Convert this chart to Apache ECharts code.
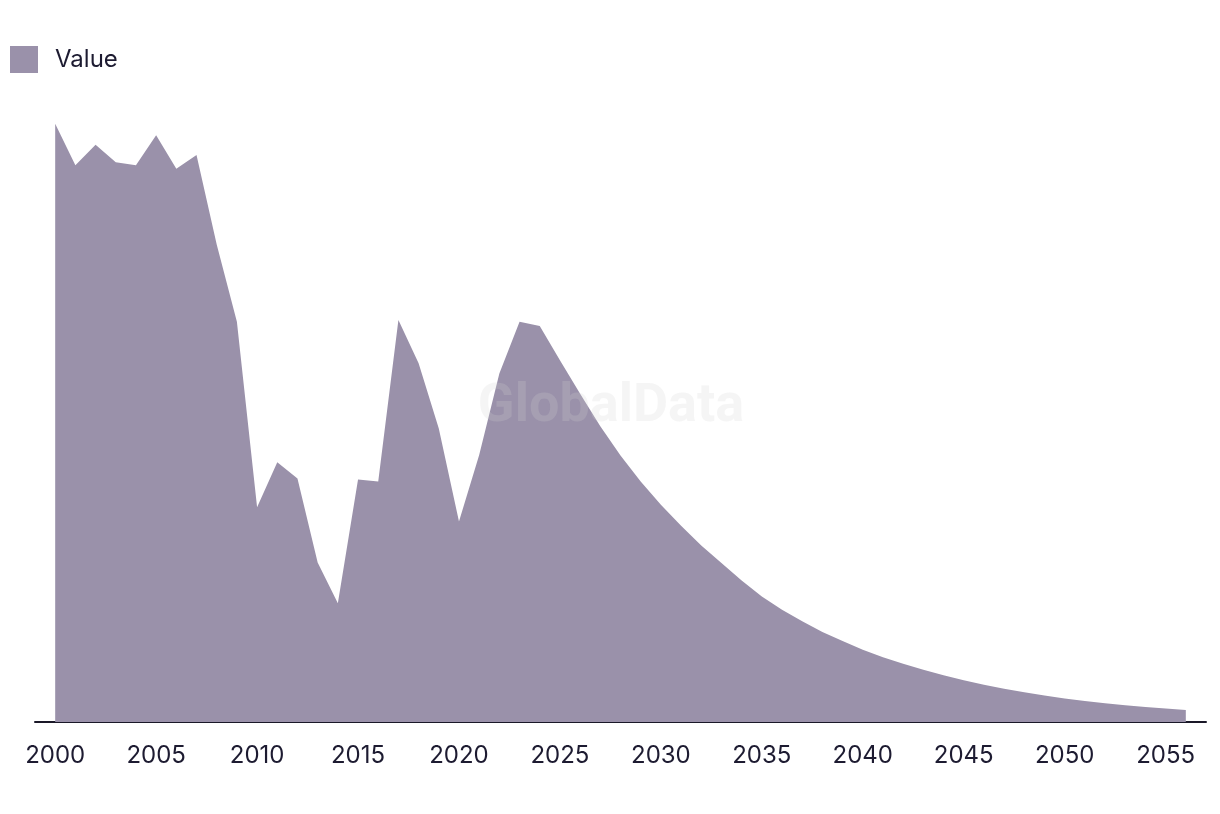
<!DOCTYPE html>
<html>
<head>
<meta charset="utf-8">
<script src="https://cdn.jsdelivr.net/npm/echarts@6/dist/echarts.min.js"></script>
<style>html,body{margin:0;padding:0;background:#fff}#c{width:1220px;height:814px}</style>
</head>
<body>
<div id="c"></div>
<script>
const years = [2000,2001,2002,2003,2004,2005,2006,2007,2008,2009,2010,2011,2012,2013,2014,2015,2016,2017,2018,2019,2020,2021,2022,2023,2024,2025,2026,2027,2028,2029,2030,2031,2032,2033,2034,2035,2036,2037,2038,2039,2040,2041,2042,2043,2044,2045,2046,2047,2048,2049,2050,2051,2052,2053,2054,2055,2056];
const values = [99.7,92.8,96.2,93.3,92.8,97.8,92.2,94.5,79.6,66.7,35.8,43.3,40.6,26.6,19.8,40.4,40.1,67.0,59.8,48.9,33.4,44.5,58.1,66.7,66.0,60.3,54.7,49.3,44.4,40.1,36.2,32.7,29.4,26.5,23.6,20.9,18.7,16.8,15.0,13.5,12.05,10.8,9.7,8.7,7.8,6.95,6.2,5.55,4.95,4.4,3.92,3.5,3.13,2.8,2.5,2.24,2.0];
const tickLabels = [2000,2005,2010,2015,2020,2025,2030,2035,2040,2045,2050,2055];
const seriesName = 'Value';

const chart = echarts.init(document.getElementById('c'), null, {renderer:'canvas'});
chart.setOption({
  animation:false,
  backgroundColor:'#ffffff',
  grid:{left:35,right:14,top:122,bottom:92,containLabel:false},
  legend:{
    show:true,left:10,top:46,padding:0,icon:'rect',itemWidth:28,itemHeight:27,
    textStyle:{fontFamily:'Inter',fontSize:24,color:'#1d1b31',padding:[0,0,0,12]},
    data:[seriesName]
  },
  xAxis:{
    type:'value',min:1999,max:2057,
    axisLine:{show:true,lineStyle:{color:'#1a1828',width:2}},
    axisTick:{show:false},
    splitLine:{show:false},
    axisLabel:{customValues:tickLabels,fontFamily:'Inter',fontSize:24,color:'#1d1b31',margin:22,formatter:v=>String(v)}
  },
  yAxis:{type:'value',min:0,max:100,show:false,splitLine:{show:false}},
  graphic:[{
    type:'text',x:611,y:407,z:100,silent:true,
    style:{text:'GlobalData',font:'bold 54px Roboto',fill:'rgba(210,210,210,0.22)',textAlign:'center',textVerticalAlign:'middle'}
  }],
  series:[{
    name:seriesName,type:'line',
    data:years.map((y,i)=>[y,values[i]]),
    showSymbol:false,symbol:'none',smooth:false,
    lineStyle:{width:0,color:'#9a91aa'},
    itemStyle:{color:'#9a91aa'},
    areaStyle:{color:'#9a91aa',opacity:1}
  }]
});
</script>
</body>
</html>
